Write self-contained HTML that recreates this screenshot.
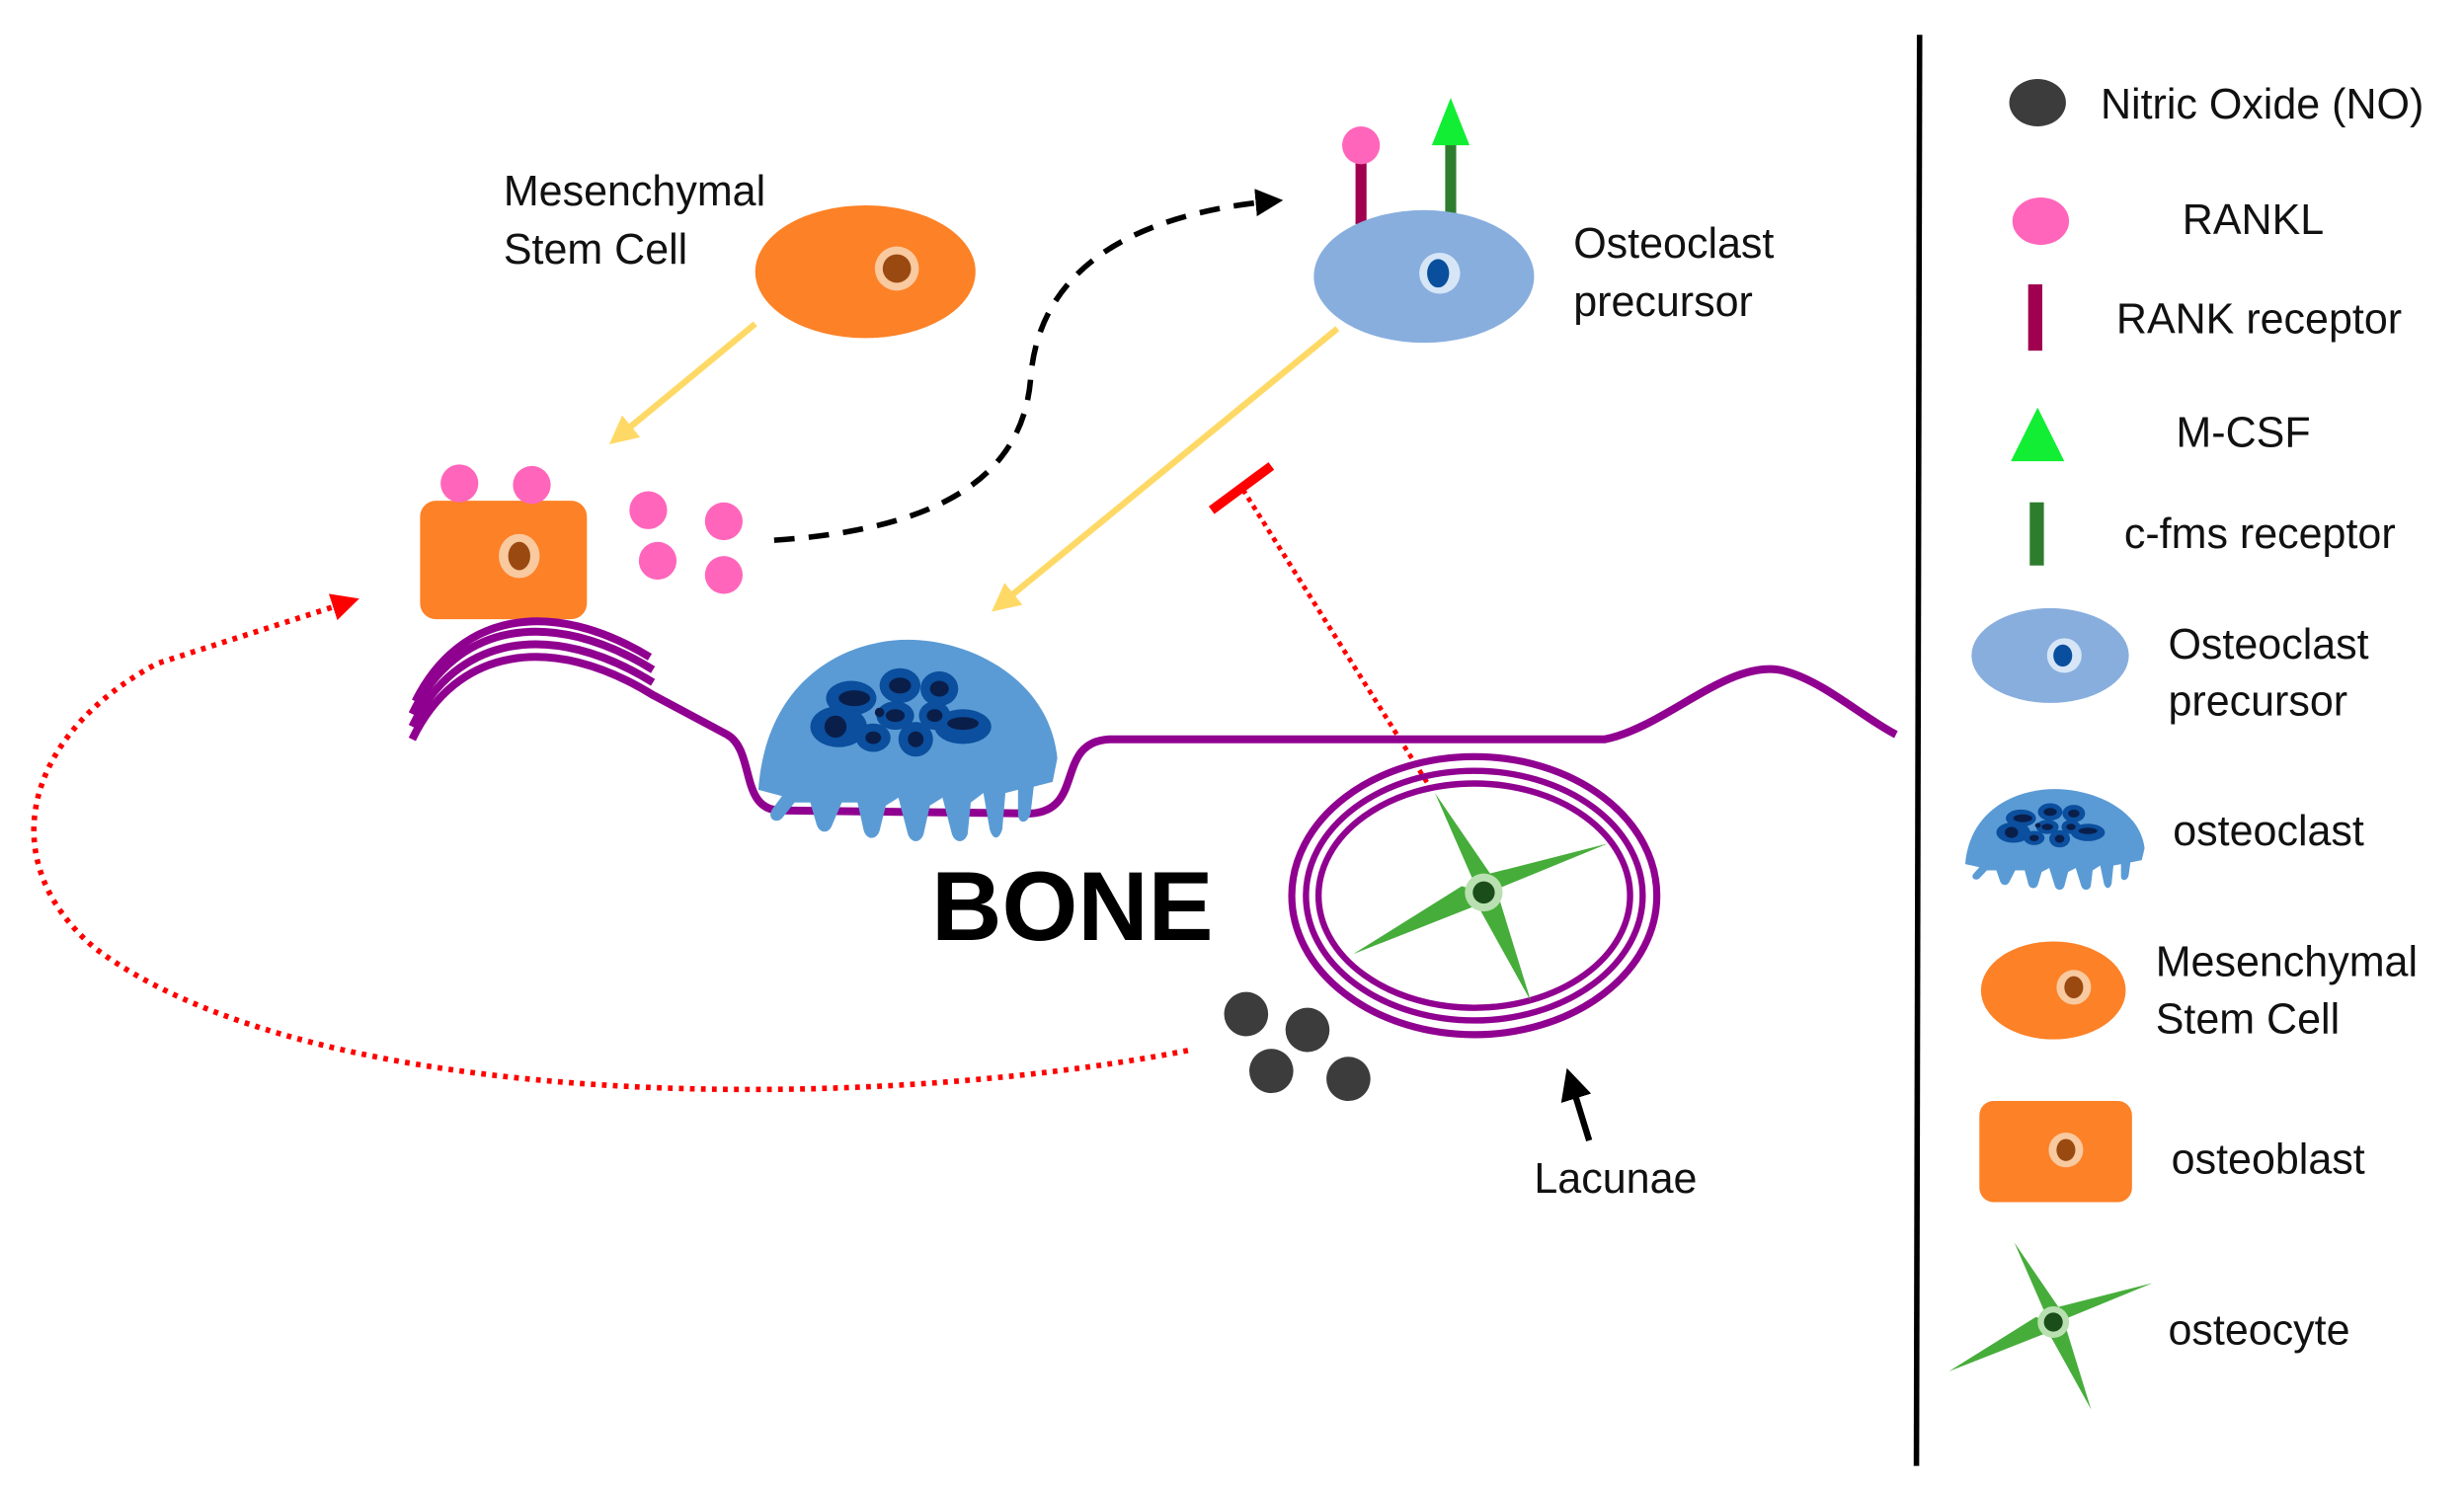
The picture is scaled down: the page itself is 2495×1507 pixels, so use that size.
<!DOCTYPE html>
<html><head><meta charset="utf-8"><style>
html,body{margin:0;padding:0;background:#fff;}
svg{display:block;}
text{font-family:"Liberation Sans",Arial,sans-serif;fill:#111;font-size:27px;}
</style></head><body>
<svg width="2495" height="1507" viewBox="0 0 1566 942" preserveAspectRatio="none" xmlns="http://www.w3.org/2000/svg">
<defs>
<marker id="ay" viewBox="0 0 10 10" refX="8" refY="5" markerWidth="4.5" markerHeight="4.5" orient="auto"><path d="M0 0L10 5L0 10z" fill="#FFD966"/></marker>
<marker id="ak" viewBox="0 0 10 10" refX="8" refY="5" markerWidth="5" markerHeight="5" orient="auto"><path d="M0 0L10 5L0 10z" fill="#000"/></marker>
<marker id="ar" viewBox="0 0 10 10" refX="8" refY="5" markerWidth="5" markerHeight="5" orient="auto"><path d="M0 0L10 5L0 10z" fill="#f00"/></marker>
<g id="star"><path d="M0 0L-14 -4L-83 39L-4 8L30 69L8 -2L79 -31L4 -12L-31 -63L-6 -6z" fill="#46ad3a"/></g>
<g id="clast">
<path d="M-95 30 C-90 -40 -40 -65 0 -65 C40 -65 90 -40 95 10 L92 25 L80 28 L78 45 C76 52 70 52 70 45 L70 30 L62 32 L60 55 C58 62 54 62 52 55 L48 32 L40 38 L38 58 C36 64 30 64 28 58 L22 35 L14 40 L10 58 C8 64 2 64 0 58 L-6 35 L-14 40 L-18 56 C-20 62 -26 62 -28 56 L-32 38 L-42 38 L-48 52 C-50 58 -56 58 -58 52 L-62 38 L-72 38 L-80 48 C-84 52 -90 48 -86 42 L-80 34z" fill="#5b9bd5"/>
<g fill="#0b4f9e"><ellipse cx="-36" cy="-28" rx="16" ry="11"/><ellipse cx="-44" cy="-10" rx="18" ry="13"/><ellipse cx="-5" cy="-36" rx="13" ry="11"/><ellipse cx="20" cy="-34" rx="12" ry="11"/><ellipse cx="-8" cy="-17" rx="12" ry="9"/><ellipse cx="17" cy="-17" rx="10" ry="9"/><ellipse cx="-22" cy="-3" rx="11" ry="9"/><ellipse cx="5" cy="-2" rx="11" ry="11"/><ellipse cx="35" cy="-10" rx="18" ry="11"/></g>
<g fill="#0a1e4a"><ellipse cx="-34" cy="-28" rx="10" ry="5"/><ellipse cx="-46" cy="-10" rx="7" ry="7"/><ellipse cx="-5" cy="-36" rx="7" ry="5"/><ellipse cx="20" cy="-34" rx="6" ry="5"/><ellipse cx="-8" cy="-17" rx="6" ry="4"/><ellipse cx="17" cy="-17" rx="5" ry="4"/><ellipse cx="-22" cy="-3" rx="5" ry="4"/><ellipse cx="5" cy="-2" rx="5" ry="5"/><ellipse cx="35" cy="-12" rx="10" ry="4"/><circle cx="-18" cy="-19" r="3"/></g>
</g>
</defs>

<line x1="1220" y1="22" x2="1218" y2="928" stroke="#000" stroke-width="3.5"/>

<ellipse cx="550" cy="172" rx="70" ry="42" fill="#fd8126"/>
<circle cx="570" cy="170" r="14" fill="#f9c9a0"/><circle cx="570" cy="170" r="9" fill="#9a4a10"/>
<text x="320" y="130">Mesenchymal</text><text x="320" y="167">Stem Cell</text>
<line x1="480" y1="205" x2="390" y2="279" stroke="#FFD966" stroke-width="4" marker-end="url(#ay)"/>

<rect x="267" y="317" width="106" height="75" rx="10" fill="#fd8126"/>
<ellipse cx="330" cy="352" rx="13" ry="14" fill="#f9c9a0"/><ellipse cx="330" cy="352" rx="7" ry="9" fill="#9a4a10"/>
<g fill="#ff66bb"><circle cx="292" cy="306" r="12"/><circle cx="338" cy="307" r="12"/><circle cx="412" cy="323" r="12"/><circle cx="460" cy="330" r="12"/><circle cx="418" cy="355" r="12"/><circle cx="460" cy="364" r="12"/></g>

<path d="M492 342 C600 335 650 300 655 240 C660 170 720 135 812 127" fill="none" stroke="#000" stroke-width="3.5" stroke-dasharray="13 9" marker-end="url(#ak)"/>

<line x1="865" y1="95" x2="865" y2="142" stroke="#a0004f" stroke-width="7"/>
<circle cx="865" cy="92" r="12" fill="#ff66bb"/>
<line x1="922" y1="140" x2="922" y2="88" stroke="#2e7d2e" stroke-width="7"/>
<path d="M910 92L934 92L922 62z" fill="#11ee33"/>
<ellipse cx="905" cy="175" rx="70" ry="42" fill="#88aede"/>
<circle cx="915" cy="173" r="13" fill="#d6e6f7"/><ellipse cx="914" cy="173" rx="7" ry="9" fill="#0a4f9e"/>
<text x="1000" y="163">Osteoclast</text><text x="1000" y="200">precursor</text>
<line x1="850" y1="208" x2="633" y2="385" stroke="#FFD966" stroke-width="4" marker-end="url(#ay)"/>

<line x1="770" y1="323" x2="808" y2="295" stroke="#f00" stroke-width="6"/>
<line x1="790" y1="310" x2="908" y2="497" stroke="#f00" stroke-width="3" stroke-dasharray="3 3"/>

<g fill="none" stroke="#900090" stroke-width="5">
<path d="M262 468 C290 410 350 400 415 440 L462 465 C480 475 470 512 495 513 L655 515 C690 513 670 470 705 468 L1020 468 C1060 460 1100 415 1135 425 C1160 432 1185 455 1205 465"/>
<path d="M262 460 C290 402 350 392 415 432"/>
<path d="M262 452 C290 394 350 384 415 424"/>
<path d="M264 444 C292 388 350 378 413 416"/>
<ellipse cx="937" cy="567" rx="116" ry="88" stroke-width="4.5"/>
<ellipse cx="937" cy="567" rx="107" ry="79" stroke-width="4"/>
<ellipse cx="937" cy="567" rx="99" ry="71" stroke-width="4"/>
</g>

<use href="#clast" transform="translate(577,470)"/>

<use href="#star" transform="translate(943,565)"/>
<circle cx="943" cy="565" r="12" fill="#b9e0b0"/><circle cx="943" cy="565" r="7" fill="#1b4d1b"/>

<text x="592" y="595" style="font-size:62px;font-weight:bold;fill:#000">BONE</text>

<g fill="#3c3c3c"><circle cx="792" cy="642" r="14"/><circle cx="831" cy="652" r="14"/><circle cx="808" cy="678" r="14"/><circle cx="857" cy="683" r="14"/></g>

<path d="M755 665 C550 705 200 705 60 600 C-5 545 15 465 100 420 L225 380" fill="none" stroke="#f00" stroke-width="3.5" stroke-dasharray="3 4" marker-end="url(#ar)"/>

<line x1="1010" y1="722" x2="997" y2="680" stroke="#000" stroke-width="4" marker-end="url(#ak)"/>
<text x="975" y="755">Lacunae</text>

<ellipse cx="1295" cy="65" rx="18" ry="15" fill="#3c3c3c"/>
<text x="1335" y="75">Nitric Oxide (NO)</text>
<ellipse cx="1297" cy="140" rx="18" ry="15" fill="#ff66bb"/>
<text x="1387" y="148">RANKL</text>
<rect x="1289" y="180" width="9" height="42" fill="#a0004f"/>
<text x="1345" y="211">RANK receptor</text>
<path d="M1278 292L1312 292L1295 258z" fill="#11ee33"/>
<text x="1383" y="283">M-CSF</text>
<rect x="1290" y="318" width="9" height="40" fill="#2e7d2e"/>
<text x="1350" y="347">c-fms receptor</text>
<ellipse cx="1303" cy="415" rx="50" ry="30" fill="#88aede"/>
<circle cx="1312" cy="415" r="11" fill="#d6e6f7"/><ellipse cx="1311" cy="415" rx="6" ry="7" fill="#0a4f9e"/>
<text x="1378" y="417">Osteoclast</text><text x="1378" y="453">precursor</text>
<use href="#clast" transform="translate(1306,532) scale(0.6,0.5)"/>
<text x="1381" y="535">osteoclast</text>
<ellipse cx="1305" cy="627" rx="46" ry="31" fill="#fd8126"/>
<circle cx="1318" cy="625" r="11" fill="#f9c9a0"/><ellipse cx="1318" cy="625" rx="6" ry="7" fill="#9a4a10"/>
<text x="1370" y="618">Mesenchymal</text><text x="1370" y="654">Stem Cell</text>
<rect x="1258" y="697" width="97" height="64" rx="9" fill="#fd8126"/>
<circle cx="1313" cy="728" r="11" fill="#f9c9a0"/><ellipse cx="1313" cy="728" rx="6" ry="7" fill="#9a4a10"/>
<text x="1380" y="743">osteoblast</text>
<use href="#star" transform="translate(1305,837) scale(0.8)"/>
<circle cx="1305" cy="837" r="10" fill="#b9e0b0"/><circle cx="1305" cy="837" r="6" fill="#1b4d1b"/>
<text x="1378" y="851">osteocyte</text>
</svg>
</body></html>
